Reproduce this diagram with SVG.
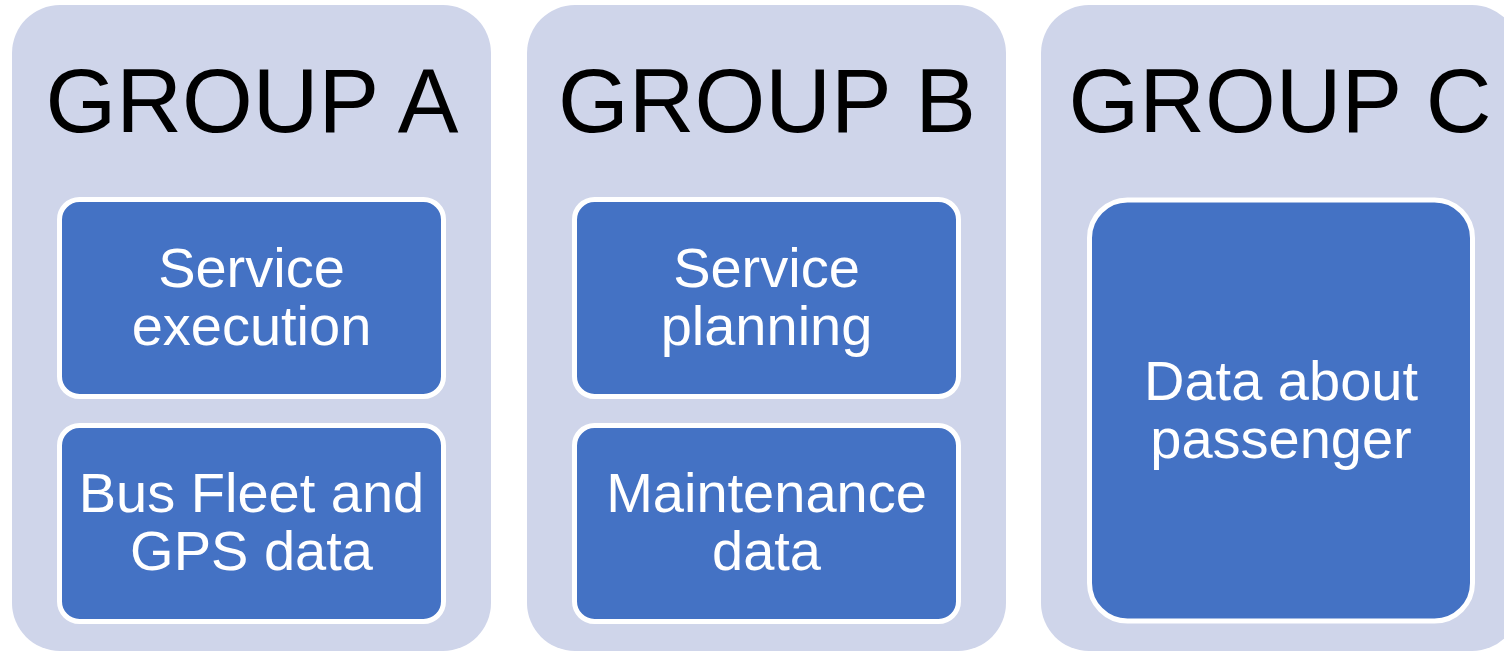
<svg xmlns="http://www.w3.org/2000/svg" width="1504" height="652" viewBox="0 0 1504 652">
<style>
.panel{fill:#CFD5EA}
.box{fill:#4472C4;stroke:#FFFFFF;stroke-width:5}
.title{font-family:"Liberation Sans",Arial,sans-serif;font-size:91px;fill:#000000;text-anchor:middle}
.label{font-family:"Liberation Sans",Arial,sans-serif;font-size:56px;fill:#FFFFFF;text-anchor:middle}
</style>
<rect width="1504" height="652" fill="#FFFFFF"/>
<g id="groupA">
<rect class="panel" x="12" y="5" width="479" height="646" rx="48"/>
<text class="title" x="252" y="132">GROUP A</text>
</g>
<g id="groupB">
<rect class="panel" x="527" y="5" width="479" height="646" rx="48"/>
<text class="title" x="767" y="132">GROUP B</text>
</g>
<g id="groupC">
<rect class="panel" x="1041" y="5" width="479" height="646" rx="48"/>
<text class="title" x="1280" y="132">GROUP C</text>
</g>
<g id="serviceExecution">
<rect class="box" x="59.5" y="199.5" width="384" height="197" rx="20"/>
<text class="label" x="251.5" y="287">Service</text>
<text class="label" x="251.5" y="345">execution</text>
</g>
<g id="busFleet">
<rect class="box" x="59.5" y="425.5" width="384" height="196" rx="20"/>
<text class="label" x="251.5" y="512">Bus Fleet and</text>
<text class="label" x="251.5" y="570">GPS data</text>
</g>
<g id="servicePlanning">
<rect class="box" x="574.5" y="199.5" width="384" height="197" rx="20"/>
<text class="label" x="766.5" y="287">Service</text>
<text class="label" x="766.5" y="345">planning</text>
</g>
<g id="maintenance">
<rect class="box" x="574.5" y="425.5" width="384" height="196" rx="20"/>
<text class="label" x="766.5" y="512">Maintenance</text>
<text class="label" x="766.5" y="570">data</text>
</g>
<g id="passenger">
<rect class="box" x="1089.5" y="200" width="383" height="421" rx="38"/>
<text class="label" x="1281" y="400">Data about</text>
<text class="label" x="1281" y="458">passenger</text>
</g>
<g id="connectors"></g>
</svg>
